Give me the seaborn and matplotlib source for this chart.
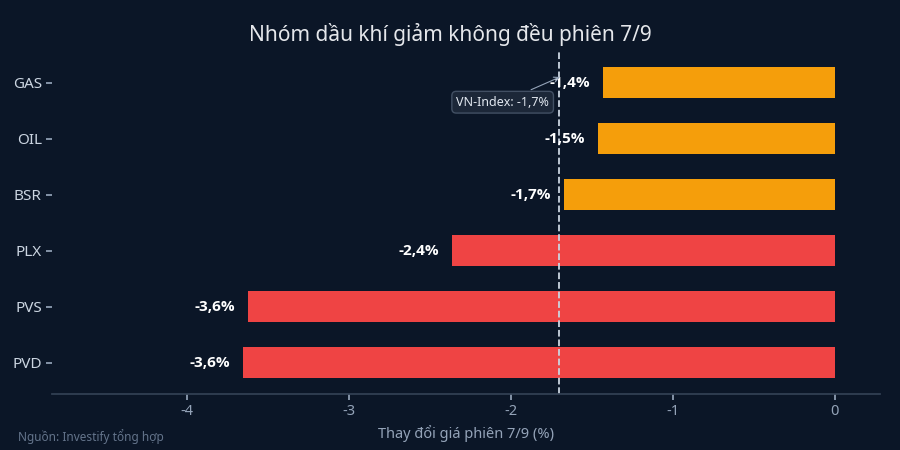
import matplotlib
matplotlib.use("Agg")
import matplotlib.pyplot as plt
import seaborn as sns
import pandas as pd

tickers = ["GAS", "OIL", "BSR", "PLX", "PVS", "PVD"]
changes = [-1.43, -1.46, -1.67, -2.36, -3.62, -3.65]
labels = ["-1,4%", "-1,5%", "-1,7%", "-2,4%", "-3,6%", "-3,6%"]
vnindex = -1.7

BG = "#0b1627"
sns.set_theme(style="dark")
plt.rcParams["font.family"] = ["Noto Sans", "DejaVu Sans"]

df = pd.DataFrame({"ma": tickers, "thay_doi": changes})
colors = ["#f59e0b" if v > vnindex else "#ef4444" for v in changes]

fig, ax = plt.subplots(figsize=(9, 4.5), dpi=100)
fig.patch.set_facecolor(BG)
ax.set_facecolor(BG)
sns.barplot(data=df, x="thay_doi", y="ma", hue="ma", palette=colors,
            legend=False, width=0.55, ax=ax, saturation=1, linewidth=0)

for i, (v, lab) in enumerate(zip(changes, labels)):
    ax.text(v - 0.08, i, lab, ha="right", va="center", color="white",
            fontsize=11, fontweight="bold", family=["Open Sans", "DejaVu Sans"])

ax.axvline(vnindex, color="#cbd5e1", ls="--", lw=1.3)
ax.annotate("VN-Index: -1,7%", xy=(vnindex + 0.02, -0.12), xytext=(-2.05, 0.35),
            color="#e2e8f0", fontsize=9, ha="center", va="center",
            bbox=dict(boxstyle="round,pad=0.35", fc="#1e293b", ec="#475569", alpha=0.9),
            arrowprops=dict(arrowstyle="->", color="#94a3b8", lw=0.8))

ax.set_xlim(-4.83, 0.28)
ax.set_ylim(5.55, -0.55)
ax.set_xticks([-4, -3, -2, -1, 0])
ax.set_xticklabels(["-4", "-3", "-2", "-1", "0"])
ax.tick_params(colors="#94a3b8", labelsize=10.5, length=4, left=True, bottom=True)
ax.tick_params(axis="y", colors="#94a3b8", labelsize=11)
for lab in ax.get_yticklabels():
    lab.set_color("#cbd5e1")
ax.set_xlabel("Thay đổi giá phiên 7/9 (%)", color="#94a3b8", fontsize=10.5)
ax.set_ylabel("")
for s in ["top", "right", "left"]:
    ax.spines[s].set_visible(False)
ax.spines["bottom"].set_color("#334155")
ax.grid(False)

fig.suptitle("Nhóm dầu khí giảm không đều phiên 7/9", color="#e5e7eb", fontsize=15, y=0.95)
fig.text(0.02, 0.02, "Nguồn: Investify tổng hợp", color="#64748b", fontsize=8.5)
fig.subplots_adjust(left=0.058, right=0.978, top=0.885, bottom=0.125)
fig.savefig("out.png", facecolor=BG)
